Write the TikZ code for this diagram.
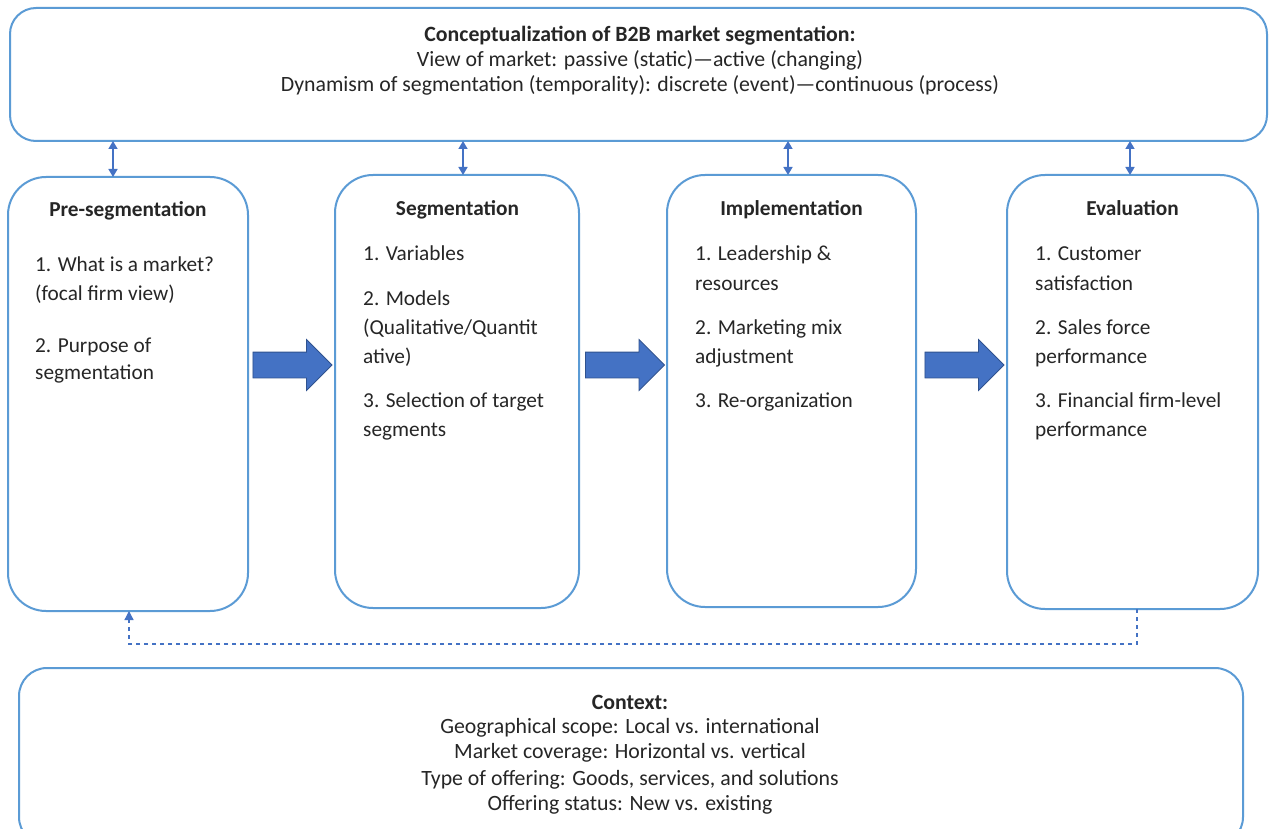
\documentclass[tikz,border=0pt]{standalone}
\usepackage{fontspec}
\setmainfont{Carlito}
\usetikzlibrary{arrows.meta,shapes.arrows}
\definecolor{boxblue}{HTML}{5B9BD5}
\definecolor{arrowblue}{HTML}{4472C4}
\definecolor{arrowedge}{HTML}{2F528F}
\definecolor{ink}{HTML}{262626}

\begin{document}
\begin{tikzpicture}[x=1pt,y=-1pt,
  panel/.style={draw=boxblue, line width=2pt, rounded corners=38pt, inner sep=0pt, outer sep=0pt},
  banner/.style={panel, rounded corners=26pt},
  title/.style={anchor=base, inner sep=0pt, font=\fontsize{21.3}{25}\selectfont\bfseries, text=ink},
  bigtitle/.style={title, font=\fontsize{21.8}{25}\selectfont\bfseries},
  item/.style={anchor=base west, inner sep=0pt, font=\fontsize{21.3}{25}\selectfont, text=ink},
  textline/.style={anchor=base, inner sep=0pt, font=\fontsize{21.8}{25}\selectfont, text=ink},
  flow/.style={single arrow, draw=arrowedge, fill=arrowblue, line width=0.8pt,
    minimum height=79pt, minimum width=50pt, single arrow head extend=12.5pt, inner sep=12.5pt},
  link/.style={draw=arrowblue, line width=1.6pt,
    {Triangle[length=8pt,width=9pt]}-{Triangle[length=8pt,width=9pt]}},
  feedback/.style={draw=arrowblue, line width=1.3pt, dash pattern=on 4pt off 4pt,
    -{Triangle[length=9pt,width=9pt]}}
]
\clip (0,0) rectangle (1269,829);
\fill[white] (0,0) rectangle (1269,829);

% frame boxes
\node[banner, minimum width=1257pt, minimum height=133pt] (top) at (638.5,74.5) {};
\node[panel, minimum width=240pt, minimum height=434pt] (pre) at (128,394) {};
\node[panel, minimum width=244pt, minimum height=433pt] (seg) at (457,391.5) {};
\node[panel, minimum width=249pt, minimum height=432pt] (imp) at (791.5,391) {};
\node[panel, minimum width=251pt, minimum height=434pt] (eva) at (1132.5,392) {};
\node[banner, rounded corners=28pt, minimum width=1224pt, minimum height=177pt] (ctx) at (631,756.5) {};

% conceptualization banner
\node[bigtitle] (topT) at (640,42) {Conceptualization of B2B market segmentation:};
\node[textline] (topA) at (640,67) {View of market: passive (static)—active (changing)};
\node[textline] (topB) at (640,92) {Dynamism of segmentation (temporality): discrete (event)—continuous (process)};

% stage titles
\node[title] (preT) at (128,217) {Pre-segmentation};
\node[title] (segT) at (457.5,216) {Segmentation};
\node[title] (impT) at (791.5,216) {Implementation};
\node[title] (evaT) at (1132.5,216) {Evaluation};

% stage contents
\foreach \y/\t [count=\i] in {271/{1. What is a market?}, 300/{(focal firm view)},
    352/{2. Purpose of}, 379/{segmentation}}
  \node[item] (pre\i) at (35,\y) {\t};
\foreach \y/\t [count=\i] in {261/{1. Variables}, 305/{2. Models}, 334/{(Qualitative/Quantit},
    363/{ative)}, 407/{3. Selection of target}, 436/{segments}}
  \node[item] (seg\i) at (363,\y) {\t};
\foreach \y/\t [count=\i] in {261/{1. Leadership \&}, 290/{resources}, 334/{2. Marketing mix},
    363/{adjustment}, 407/{3. Re-organization}}
  \node[item] (imp\i) at (695,\y) {\t};
\foreach \y/\t [count=\i] in {261/{1. Customer}, 290/{satisfaction}, 334/{2. Sales force},
    363/{performance}, 407/{3. Financial firm-level}, 436/{performance}}
  \node[item] (eva\i) at (1035,\y) {\t};

% context banner
\node[bigtitle] (ctxT) at (630,709) {Context:};
\foreach \y/\t [count=\i] in {733/{Geographical scope: Local vs. international},
    758/{Market coverage: Horizontal vs. vertical},
    785/{Type of offering: Goods, services, and solutions},
    810/{Offering status: New vs. existing}}
  \node[textline] (ctx\i) at (630,\y) {\t};

% block arrows between stages
\node[flow] (f1) at (286,365) {};
\node[flow] (f2) at (618.5,365) {};
\node[flow] (f3) at (958,365) {};

% two-way links to the conceptualization banner
\coordinate (c1) at (113,0);
\coordinate (c2) at (463,0);
\coordinate (c3) at (788,0);
\coordinate (c4) at (1130,0);
\draw[link] (top.south -| c1) -- (pre.north -| c1);
\draw[link] (top.south -| c2) -- (seg.north -| c2);
\draw[link] (top.south -| c3) -- (imp.north -| c3);
\draw[link] (top.south -| c4) -- (eva.north -| c4);

% feedback loop from evaluation back to pre-segmentation
\coordinate (fx) at (1137,0);
\coordinate (fb) at (129,644);
\draw[feedback] (eva.south -| fx) |- (fb) -- (pre.south -| fb);
\end{tikzpicture}
\end{document}
